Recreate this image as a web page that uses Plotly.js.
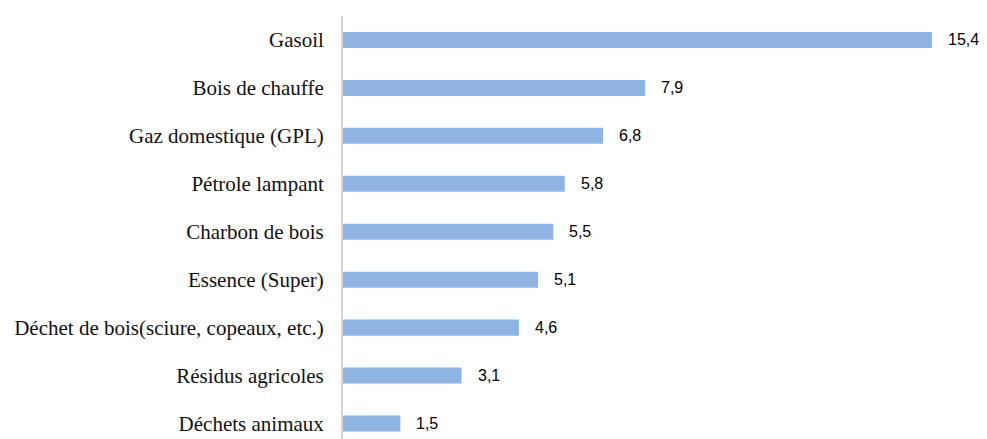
<!DOCTYPE html>
<html><head><meta charset="utf-8">
<script src="https://cdn.plot.ly/plotly-3.0.1.min.js"></script>
<style>html,body{margin:0;padding:0;background:#fff}</style>
</head><body>
<div id="chart" style="width:987px;height:439px"></div>
<script>
const categories = ["Déchets animaux","Résidus agricoles","Déchet de bois(sciure, copeaux, etc.)","Essence (Super)","Charbon de bois","Pétrole lampant","Gaz domestique (GPL)","Bois de chauffe","Gasoil"];
const values = [1.5,3.1,4.6,5.1,5.5,5.8,6.8,7.9,15.4];
const valueLabels = values.map(v => v.toFixed(1).replace('.', ','));

const trace = {
  type: 'bar', orientation: 'h',
  x: values, y: categories,
  marker: {color: '#8EB4E3'},
  width: 0.334,
  hoverinfo: 'none'
};
const annotations = values.map((v, i) => ({
  x: v, y: categories[i], xref: 'x', yref: 'y',
  text: valueLabels[i], showarrow: false,
  xanchor: 'left', yanchor: 'middle', xshift: 14,
  font: {family: 'Liberation Sans, Arial, sans-serif', size: 16, color: '#000'}
}));
const layout = {
  width: 987, height: 439,
  margin: {l: 343, r: 13, t: 16, b: 0},
  paper_bgcolor: '#fff', plot_bgcolor: '#fff',
  showlegend: false,
  xaxis: {range: [0, 16.5], visible: false, fixedrange: true},
  yaxis: {
    type: 'category', categoryorder: 'array', categoryarray: categories,
    range: [-0.323, 8.5],
    showline: true, linecolor: '#d4d4d4', linewidth: 2,
    showgrid: false, zeroline: false, ticks: '',
    ticklabelstandoff: 13,
    tickfont: {family: 'Liberation Serif, Times New Roman, serif', size: 21, color: '#111'}
  },
  annotations: annotations
};
Plotly.newPlot('chart', [trace], layout, {displayModeBar: false, staticPlot: true});
</script>
</body></html>
